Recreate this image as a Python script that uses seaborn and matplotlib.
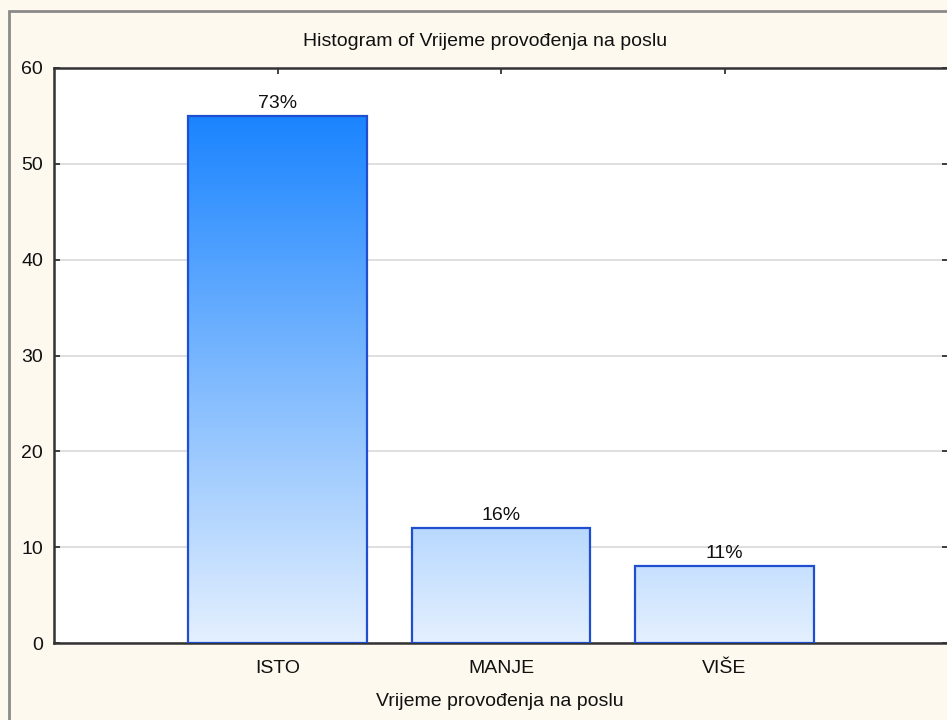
import numpy as np
import pandas as pd
import matplotlib
matplotlib.use("Agg")
import matplotlib.pyplot as plt
import seaborn as sns
from matplotlib.colors import LinearSegmentedColormap, Normalize
from matplotlib.patches import Rectangle

categories = ["ISTO", "MANJE", "VIŠE"]
counts = [55, 12, 8]
pct_labels = ["73%", "16%", "11%"]
y_ticks = [0, 10, 20, 30, 40, 50, 60]
title = "Histogram of Vrijeme provođenja na poslu"
xlabel = "Vrijeme provođenja na poslu"

sns.set_style("white")
plt.rcParams["font.family"] = ["Liberation Sans", "DejaVu Sans"]

FS = 14

fig = plt.figure(figsize=(9.47, 7.2), dpi=100)
fig.patch.set_facecolor("#FEF9EE")
ax = fig.add_axes([54 / 947, 1 - 643 / 720, (948 - 54) / 947, (643 - 68) / 720])
ax.set_facecolor("white")

df = pd.DataFrame({"cat": categories, "n": counts})
sns.barplot(data=df, x="cat", y="n", ax=ax, width=0.8, color="white",
            edgecolor="#1F4ED0", linewidth=1.6, zorder=3)

cmap = LinearSegmentedColormap.from_list("grad", ["#E4F0FE", "#1A84FF"])
norm = Normalize(vmin=0, vmax=max(counts))
for p in ax.patches:
    x0, w, h = p.get_x(), p.get_width(), p.get_height()
    grad = np.linspace(0, h, 256).reshape(-1, 1)
    im = ax.imshow(grad, extent=[x0, x0 + w, 0, h], origin="lower",
                   aspect="auto", cmap=cmap, norm=norm, zorder=2,
                   interpolation="bilinear")
    im.set_clip_path(p)
    p.set_facecolor("none")

for p, lab in zip(ax.patches, pct_labels):
    ax.text(p.get_x() + p.get_width() / 2, p.get_height() + 0.45, lab,
            ha="center", va="bottom", fontsize=FS, color="#111111", zorder=5)

ax.set_xlim(-1, 3)
ax.set_ylim(0, 60)
ax.set_yticks(y_ticks)
ax.set_xticks(range(len(categories)))
ax.set_xticklabels(categories)
ax.grid(axis="y", color="#D9D9D9", linewidth=1.2, zorder=0)
ax.set_axisbelow(True)
ax.tick_params(axis="both", direction="in", length=4, width=1.2, color="#222222",
               labelsize=FS, labelcolor="#111111",
               top=True, right=True, bottom=True, left=True)
ax.tick_params(axis="y", pad=8)
ax.tick_params(axis="x", pad=12)
for s in ax.spines.values():
    s.set_color("#333333")
    s.set_linewidth(1.8)
ax.set_xlabel("")
ax.set_ylabel("")

fig.text(485 / 947, 1 - 42 / 720, title, ha="center", va="center",
         fontsize=FS, color="#111111")
fig.text(500 / 947, 1 - 701 / 720, xlabel, ha="center", va="center",
         fontsize=FS, color="#111111")

fig.patches.append(Rectangle((9 / 947, -0.1), 1.2, 1 - 11 / 720 + 0.1,
                             transform=fig.transFigure, fill=False,
                             edgecolor="#8A8A8A", linewidth=2, zorder=0))

fig.savefig("out.png", dpi=100, facecolor=fig.get_facecolor())
